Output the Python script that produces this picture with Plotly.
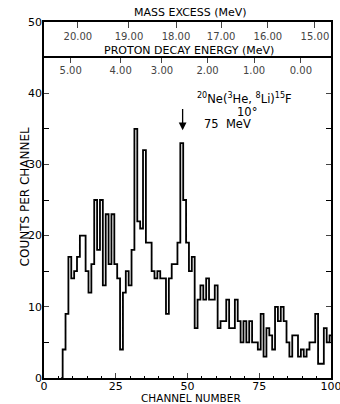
import plotly.graph_objects as go

# ---- data ----
channels = list(range(6, 101))
counts = [0, 4, 9, 17, 14, 15, 17, 20, 20, 15, 12, 16, 25, 18, 25, 13,
          23, 16, 23, 16, 14, 4, 12, 15, 13, 18, 35, 22, 21, 32, 19, 19,
          15, 14, 15, 14, 14, 9, 14, 16, 16, 19, 33, 25, 19, 15, 17, 7,
          11, 13, 11, 14, 11, 11, 13, 7, 8, 8, 11, 7, 7, 11, 8, 5,
          8, 5, 8, 5, 5, 4, 9, 3, 7, 6, 4, 10, 8, 10, 8, 5,
          3, 6, 6, 3, 4, 3, 4, 5, 5, 9, 2, 2, 7, 5, 6]

x_ticks = [0, 25, 50, 75, 100]
y_ticks = [0, 10, 20, 30, 40, 50]
mass_excess_labels = ["20.00", "19.00", "18.00", "17.00", "16.00", "15.00"]
mass_excess_channels = [11.8, 29.6, 46.0, 61.7, 78.0, 94.4]
proton_labels = ["5.00", "4.00", "3.00", "2.00", "1.00", "0.00"]
proton_channels = [9.3, 26.7, 41.1, 57.0, 73.2, 89.5]
proton_axis_level = 45.1
arrow_channel = 48.3
arrow_from, arrow_to = 38.0, 34.8

FONT = "DejaVu Sans"
fig = go.Figure()
fig.add_trace(go.Scatter(x=channels, y=counts, mode="lines",
                         line=dict(shape="hvh", color="black", width=1.8),
                         hoverinfo="skip", showlegend=False))
# empty traces so the extra axes render
fig.add_trace(go.Scatter(x=[None], y=[None], xaxis="x2", yaxis="y", showlegend=False))
fig.add_trace(go.Scatter(x=[None], y=[None], xaxis="x3", yaxis="y", showlegend=False))

fig.update_layout(
    width=340, height=404,
    margin=dict(l=44, r=9, t=22, b=26, autoexpand=False),
    paper_bgcolor="white", plot_bgcolor="white",
    font=dict(family=FONT, color="black", size=11),
    xaxis=dict(range=[0, 100], tickvals=x_ticks, ticks="inside", ticklen=5,
               tickwidth=1.2, showline=True, linecolor="black", linewidth=1.8,
               mirror=True, showgrid=False, zeroline=False, automargin=False,
               ticklabeloverflow="allow", ticklabelstandoff=-3,
               minor=dict(dtick=5, ticks="inside", ticklen=2, tickcolor="black"),
               tickfont=dict(size=11)),
    xaxis2=dict(range=[0, 100], overlaying="x", side="top", anchor="y",
                tickvals=mass_excess_channels, ticktext=mass_excess_labels,
                ticks="inside", ticklen=6, ticklabelposition="inside",
                ticklabelstandoff=4, ticklabeloverflow="allow",
                showline=False, showgrid=False, zeroline=False, automargin=False,
                tickfont=dict(size=10)),
    xaxis3=dict(range=[0, 100], overlaying="x", side="top", anchor="free",
                position=proton_axis_level / 50,
                tickvals=proton_channels, ticktext=proton_labels,
                ticks="inside", ticklen=5, ticklabelposition="inside",
                ticklabelstandoff=3, ticklabeloverflow="allow",
                showline=True, linecolor="black", linewidth=1.6, automargin=False,
                showgrid=False, zeroline=False, tickfont=dict(size=10)),
    yaxis=dict(range=[0, 50], tickvals=y_ticks, ticks="inside", ticklen=5, tickwidth=1.2,
               showline=True, linecolor="black", linewidth=1.8, mirror="allticks",
               showgrid=False, zeroline=False, automargin=False,
               ticklabeloverflow="allow", ticklabelstandoff=-2,
               minor=dict(dtick=5, ticks="inside", ticklen=4, tickcolor="black"),
               tickfont=dict(size=11)),
)

annos = [
    dict(text="MASS EXCESS (MeV)", x=0.512, y=1.0, xref="paper", yref="paper",
         yanchor="bottom", yshift=1, showarrow=False, font=dict(size=11)),
    dict(text="PROTON DECAY ENERGY (MeV)", x=50.5, y=proton_axis_level, xref="x", yref="y",
         yanchor="bottom", yshift=-2, showarrow=False, font=dict(size=11)),
    dict(text="CHANNEL NUMBER", x=0.512, y=0, xref="paper", yref="paper",
         yanchor="top", yshift=-12, showarrow=False, font=dict(size=10.5)),
    dict(text="COUNTS PER CHANNEL", x=-0.0976, y=0.51, xref="paper", yref="paper",
         textangle=-90, showarrow=False, font=dict(size=12)),
    dict(text="<sup>20</sup>Ne(<sup>3</sup>He, <sup>8</sup>Li)<sup>15</sup>F",
         x=70.0, y=39.3, xref="x", yref="y", showarrow=False, font=dict(size=11.5)),
    dict(text="10°", x=70.7, y=37.3, xref="x", yref="y", showarrow=False,
         font=dict(size=11.5)),
    dict(text="75  MeV", x=64.1, y=35.7, xref="x", yref="y", showarrow=False,
         font=dict(size=11.5)),
    dict(text="", x=arrow_channel, y=arrow_to, ax=arrow_channel, ay=arrow_from,
         xref="x", yref="y", axref="x", ayref="y", showarrow=True,
         arrowhead=2, arrowsize=1.2, arrowwidth=1.3, arrowcolor="black"),
]
fig.update_layout(annotations=annos)
fig.write_html("out.html", config={"displayModeBar": False},
               post_script="document.body.style.margin='0';"
                           "document.documentElement.style.overflow='hidden';")
